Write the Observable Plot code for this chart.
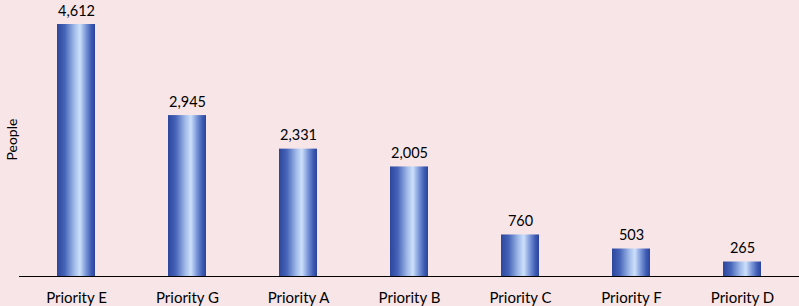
<!DOCTYPE html>
<html><head><meta charset="utf-8">
<script src="https://cdn.jsdelivr.net/npm/d3@7"></script>
<script src="https://cdn.jsdelivr.net/npm/@observablehq/plot@0.6"></script>
<style>
html,body{margin:0;padding:0;background:#f7e5e7;overflow:hidden;}
</style></head><body><div id="chart"></div>
<script>
const categories = ["Priority E", "Priority G", "Priority A", "Priority B", "Priority C", "Priority F", "Priority D"];
const people = [4612, 2945, 2331, 2005, 760, 503, 265];
const yLabel = "People";

const data = categories.map((c, i) => ({category: c, people: people[i]}));

const gradient = () => {
  const ns = "http://www.w3.org/2000/svg";
  const defs = document.createElementNS(ns, "defs");
  const g = document.createElementNS(ns, "linearGradient");
  g.setAttribute("id", "barGrad");
  g.setAttribute("x1", "0"); g.setAttribute("x2", "1");
  g.setAttribute("y1", "0"); g.setAttribute("y2", "0");
  [[0, "#2c469c"], [0.2, "#4563b8"], [0.45, "#9fb9e8"], [0.6, "#cde0fa"], [0.75, "#7f9bdc"], [0.9, "#3f5cb4"], [1, "#2a449a"]]
    .forEach(([o, c]) => {
      const s = document.createElementNS(ns, "stop");
      s.setAttribute("offset", o); s.setAttribute("stop-color", c);
      g.appendChild(s);
    });
  defs.appendChild(g);
  return defs;
};

const chart = Plot.plot({
  width: 799, height: 306,
  marginLeft: 19, marginRight: 0, marginTop: 24, marginBottom: 30,
  style: {background: "#f7e5e7", fontFamily: "Lato, 'Open Sans', sans-serif", fontSize: "14px", color: "#000", overflow: "visible"},
  x: {domain: categories, paddingInner: 0.658, paddingOuter: 0.329},
  y: {domain: [0, d3.max(people)], axis: null},
  marks: [
    gradient,
    Plot.barY(data, {x: "category", y: "people", fill: "url(#barGrad)"}),
    Plot.ruleY([0], {stroke: "#000", strokeWidth: 1.2}),
    Plot.axisX({tickSize: 0, tickPadding: 16, fontSize: 15, label: null}),
    Plot.text(data, {x: "category", y: "people", text: d => d3.format(",")(d.people), lineAnchor: "bottom", dy: -9, fontSize: 14.5, fill: "#000"}),
    Plot.text([yLabel], {frameAnchor: "left", rotate: -90, dx: -7, dy: 10, fontSize: 14, fill: "#000"})
  ]
});
document.getElementById("chart").appendChild(chart);
</script></body></html>
